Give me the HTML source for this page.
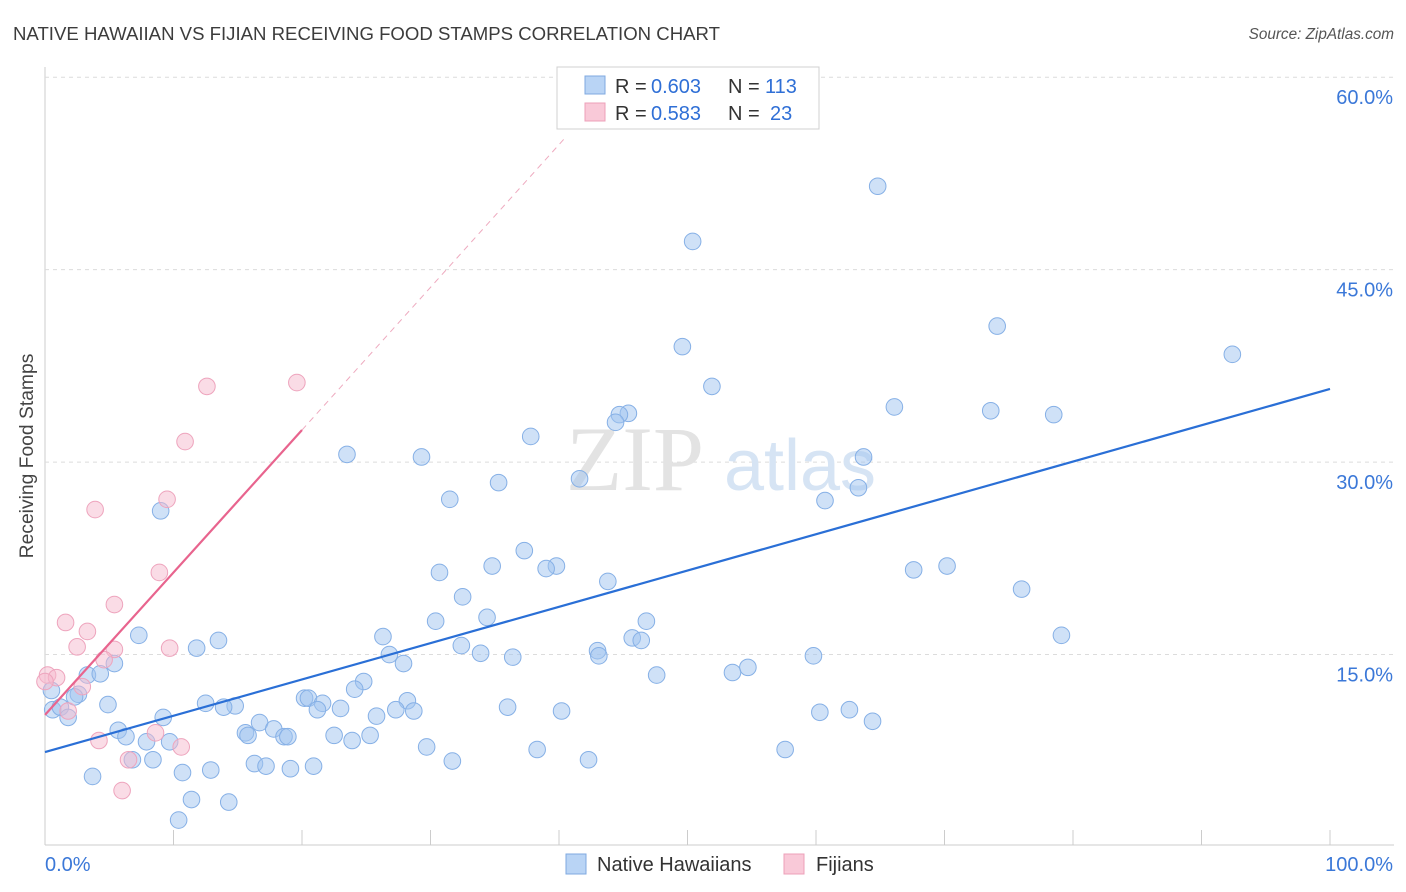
<!DOCTYPE html>
<html><head><meta charset="utf-8"><style>
body{margin:0;background:#fff;font-family:"Liberation Sans",sans-serif}
#wrap{position:relative;width:1406px;height:892px;overflow:hidden}
</style></head><body>
<div id="wrap">
<svg id="chart" width="1406" height="892" xmlns="http://www.w3.org/2000/svg">
<text x="13" y="40" font-size="18.6" fill="#3c3c3c">NATIVE HAWAIIAN VS FIJIAN RECEIVING FOOD STAMPS CORRELATION CHART</text>
<text x="1394" y="39" font-size="15.3" fill="#555" font-style="italic" text-anchor="end">Source: ZipAtlas.com</text>
<text x="33" y="456" font-size="19.3" fill="#444" text-anchor="middle" transform="rotate(-90 33 456)">Receiving Food Stamps</text>
<g id="grid"></g>
<g id="watermark">
<text x="635" y="490" font-size="92" fill="#e3e3e3" text-anchor="middle" font-family="Liberation Serif,serif">ZIP</text>
<text x="800" y="490" font-size="72" fill="#d6e4f4" text-anchor="middle">atlas</text>
</g>
<g id="marks"></g>
<g id="lines"></g>
<g>
<rect x="557" y="67" width="262" height="62" fill="#fff" stroke="#d0d0d0"/>
<rect x="585" y="76" width="20" height="18" fill="#b9d4f5" stroke="#7fa9e0"/>
<rect x="585" y="103" width="20" height="18" fill="#f9c9d8" stroke="#eda0b9"/>
<text x="615" y="93" font-size="20" fill="#333">R =</text>
<text x="651" y="93" font-size="20" fill="#2f6fd6">0.603</text>
<text x="728" y="93" font-size="20" fill="#333">N =</text>
<text x="765" y="93" font-size="20" fill="#2f6fd6">113</text>
<text x="615" y="120" font-size="20" fill="#333">R =</text>
<text x="651" y="120" font-size="20" fill="#2f6fd6">0.583</text>
<text x="728" y="120" font-size="20" fill="#333">N =</text>
<text x="770" y="120" font-size="20" fill="#2f6fd6">23</text>
</g>
<g>
<rect x="566" y="854" width="20" height="20" fill="#b9d4f5" stroke="#7fa9e0"/>
<text x="597" y="871" font-size="20" fill="#333">Native Hawaiians</text>
<rect x="784" y="854" width="20" height="20" fill="#f9c9d8" stroke="#eda0b9"/>
<text x="816" y="871" font-size="20" fill="#333">Fijians</text>
</g>
</svg>
<script>
const yTicks=[15,30,45,60];
const yTickLabels=["15.0%","30.0%","45.0%","60.0%"];
const xTickCount=10;
const blueX=[64.8,50.4,74.1,92.4,49.6,51.9,66.1,73.6,78.5,45.4,44.7,44.4,37.8,23.5,29.3,63.7,41.6,35.3,63.3,31.5,60.7,9.0,37.3,39.8,39.0,34.8,30.7,67.6,70.2,43.8,76.0,32.5,34.4,30.4,46.8,7.3,13.5,26.3,45.7,46.4,79.1,11.8,32.4,43.0,43.1,26.8,33.9,36.4,27.9,59.8,5.4,54.7,53.5,47.6,3.3,4.3,24.8,24.1,2.6,20.2,20.5,28.2,2.3,12.5,14.8,13.9,4.9,0.6,1.2,21.6,21.2,23.0,28.7,27.3,36.0,40.2,62.6,60.3,25.8,64.4,9.2,1.8,16.7,17.8,15.6,15.8,5.7,22.5,18.6,18.9,6.3,25.3,23.9,7.9,9.7,29.7,38.3,57.6,8.4,6.8,31.7,42.3,16.3,17.2,20.9,19.1,12.9,10.7,3.7,11.4,14.3,10.4,0.5];
const blueY=[51.5,47.2,40.6,38.4,39.0,35.9,34.3,34.0,33.7,33.8,33.7,33.1,32.0,30.6,30.4,30.4,28.7,28.4,28.0,27.1,27.0,26.2,23.1,21.9,21.7,21.9,21.4,21.6,21.9,20.7,20.1,19.5,17.9,17.6,17.6,16.5,16.1,16.4,16.3,16.1,16.5,15.5,15.7,15.3,14.9,15.0,15.1,14.8,14.3,14.9,14.3,14.0,13.6,13.4,13.4,13.5,12.9,12.3,11.9,11.6,11.6,11.4,11.7,11.2,11.0,10.9,11.1,10.7,10.9,11.2,10.7,10.8,10.6,10.7,10.9,10.6,10.7,10.5,10.2,9.8,10.1,10.1,9.7,9.2,8.9,8.7,9.1,8.7,8.6,8.6,8.6,8.7,8.3,8.2,8.2,7.8,7.6,7.6,6.8,6.8,6.7,6.8,6.5,6.3,6.3,6.1,6.0,5.8,5.5,3.7,3.5,2.1,12.2];
const pinkX=[19.6,12.6,10.9,9.5,3.9,8.9,5.4,1.6,3.3,9.7,2.5,5.4,4.6,0.2,0.9,2.9,1.8,8.6,4.2,10.6,6.5,6.0,0];
const pinkY=[36.2,35.9,31.6,27.1,26.3,21.4,18.9,17.5,16.8,15.5,15.6,15.4,14.6,13.4,13.2,12.5,10.6,8.9,8.3,7.8,6.8,4.4,12.9];
const blueTrend=[[0,7.4],[100,35.7]];
const pinkTrend=[[0,10.3],[20,32.5]];
const pinkTrendExt=[[20,32.5],[40.5,55.3]];

const NS="http://www.w3.org/2000/svg";
const X0=45,X1=1330,Y0=847,PPY=12.83;
const sx=v=>X0+(X1-X0)*v/100;
const sy=v=>Y0-v*PPY;
function mk(tag,attrs,parent){const e=document.createElementNS(NS,tag);for(const k in attrs)e.setAttribute(k,attrs[k]);parent.appendChild(e);return e;}
const grid=document.getElementById('grid');
const axisY=mk('line',{x1:X0,y1:67,x2:X0,y2:845,stroke:'#ccc'},grid);


const axisX=mk('line',{x1:X0,y1:845,x2:1394,y2:845,stroke:'#ccc'},grid);


yTicks.forEach((t,i)=>{
  const g=mk('line',{x1:X0,y1:sy(t),x2:1394,y2:sy(t),stroke:'#dcdcdc','stroke-dasharray':'4,4'},grid);
  
  
  const l=mk('text',{x:1393,y:sy(t)+27,'font-size':20,fill:'#3b78d8','text-anchor':'end'},grid);
  l.textContent=yTickLabels[i];
  
  
});
for(let i=1;i<=xTickCount;i++){
  const x=sx(i*10);
  const t=mk('line',{x1:x,y1:830,x2:x,y2:845,stroke:'#ccc'},grid);
  
  
}
const xl0=mk('text',{x:45,y:871,'font-size':20,fill:'#3b78d8'},grid);xl0.textContent='0.0%';


const xl1=mk('text',{x:1393,y:871,'font-size':20,fill:'#3b78d8','text-anchor':'end'},grid);xl1.textContent='100.0%';



const marks=document.getElementById('marks');
blueX.forEach((v,i)=>{
  const c=mk('circle',{cx:sx(v),cy:sy(blueY[i]),r:8.3,fill:'rgba(160,196,240,0.5)',stroke:'#86b0e6','stroke-width':1},marks);
  
  
});
pinkX.forEach((v,i)=>{
  const c=mk('circle',{cx:sx(v),cy:sy(pinkY[i]),r:8.3,fill:'rgba(246,186,206,0.5)',stroke:'#eea4bd','stroke-width':1},marks);
  
  
});
const lines=document.getElementById('lines');
const bl=mk('line',{x1:sx(blueTrend[0][0]),y1:sy(blueTrend[0][1]),x2:sx(blueTrend[1][0]),y2:sy(blueTrend[1][1]),stroke:'#2a6fd6','stroke-width':2.2},lines);


const pl=mk('line',{x1:sx(pinkTrend[0][0]),y1:sy(pinkTrend[0][1]),x2:sx(pinkTrend[1][0]),y2:sy(pinkTrend[1][1]),stroke:'#e8648e','stroke-width':2.2},lines);


const pd=mk('line',{x1:sx(pinkTrendExt[0][0]),y1:sy(pinkTrendExt[0][1]),x2:sx(pinkTrendExt[1][0]),y2:sy(pinkTrendExt[1][1]),stroke:'#eeaabf','stroke-width':1,'stroke-dasharray':'6,5'},lines);


</script>
</div>
</body></html>
